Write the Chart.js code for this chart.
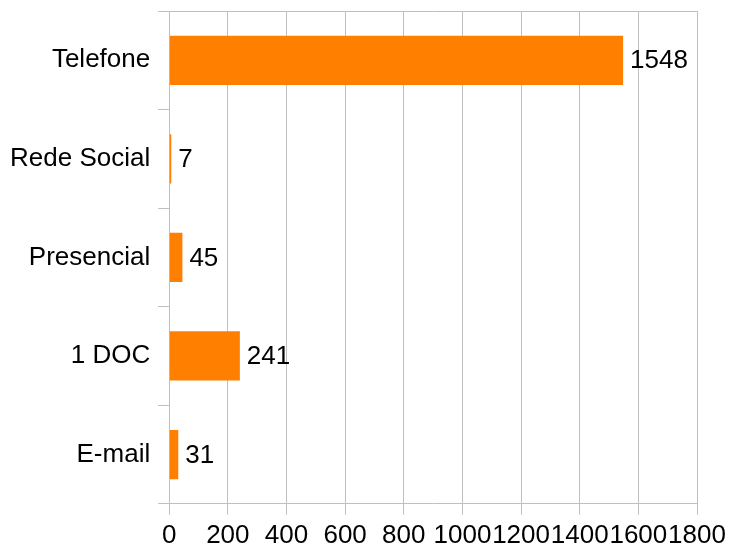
<!DOCTYPE html>
<html>
<head>
<meta charset="utf-8">
<script src="https://cdn.jsdelivr.net/npm/chart.js@4/dist/chart.umd.min.js"></script>
<style>
  body { margin: 0; background: #fff; }
  #wrap { width: 729px; height: 548px; }
</style>
</head>
<body>
<div id="wrap"><canvas id="grafico"></canvas></div>
<script>
const categorias = ['Telefone', 'Rede Social', 'Presencial', '1 DOC', 'E-mail'];
const valores = [1548, 7, 45, 241, 31];
const ticksX = [0, 200, 400, 600, 800, 1000, 1200, 1400, 1600, 1800];

const cinza = '#c0c0c0';
const fonte = { family: 'Liberation Sans', size: 26 };

// escreve o valor ao lado de cada barra
const rotulos = {
    id: 'rotulos',
    afterDatasetsDraw(chart) {
        const ctx = chart.ctx;
        const meta = chart.getDatasetMeta(0);
        ctx.save();
        ctx.font = `${fonte.size}px ${fonte.family}`;
        ctx.fillStyle = '#000';
        ctx.textBaseline = 'middle';
        ctx.textAlign = 'left';
        meta.data.forEach((bar, i) => {
            ctx.fillText(valores[i], bar.x + 7, bar.y + 1);
        });
        ctx.restore();
    }
};

const ctx = document.getElementById('grafico').getContext('2d');

new Chart(ctx, {
    type: 'bar',
    data: {
        labels: categorias,
        datasets: [{
            data: valores,
            backgroundColor: '#ff8000',
            borderWidth: 0,
            barPercentage: 0.5,
            categoryPercentage: 1
        }]
    },
    options: {
        indexAxis: 'y',
        responsive: true,
        maintainAspectRatio: false,
        animation: false,
        layout: { padding: { left: 2, right: 0, top: 11, bottom: -8 } },
        plugins: {
            legend: { display: false },
            tooltip: { enabled: false }
        },
        scales: {
            x: {
                min: 0,
                max: 1800,
                afterBuildTicks: axis => { axis.ticks = ticksX.map(v => ({ value: v })); },
                afterFit: axis => { axis.paddingRight = 32; axis.paddingLeft = 0; },
                grid: { color: cinza, tickColor: cinza, tickLength: 11, lineWidth: 1 },
                border: { color: cinza },
                ticks: {
                    color: '#000', font: fonte, padding: 5, maxRotation: 0, autoSkip: false,
                    callback: v => String(v)
                }
            },
            y: {
                afterFit: axis => { axis.paddingTop = 0; axis.paddingBottom = 0; },
                grid: {
                    offset: true,
                    color: c => c.index === 0 ? cinza : 'rgba(0,0,0,0)',
                    tickColor: cinza,
                    tickLength: 11
                },
                border: { color: cinza },
                ticks: { color: '#000', font: fonte, padding: 8 }
            }
        }
    },
    plugins: [rotulos]
});
</script>
</body>
</html>
